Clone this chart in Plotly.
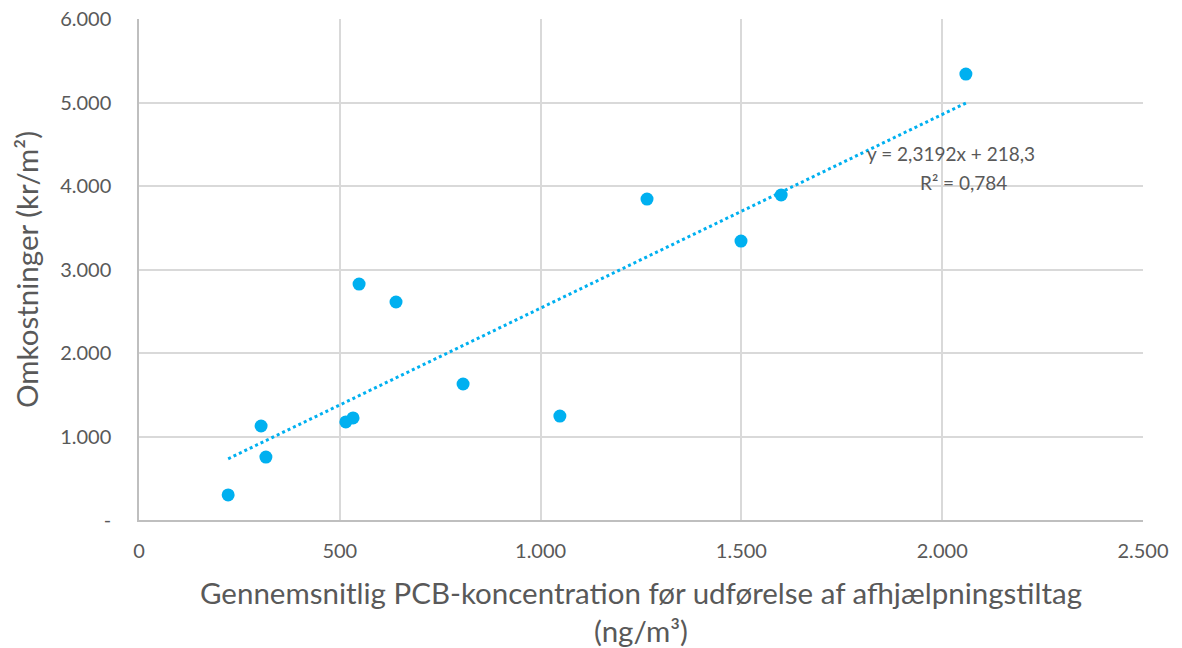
import plotly.graph_objects as go
import numpy as np

# Data
pcb_conc = [222, 304, 316, 515, 533, 548, 640, 807, 1048, 1265, 1499, 1599, 2059]
costs = [300, 1126, 754, 1174, 1222, 2826, 2611, 1629, 1245, 3844, 3341, 3892, 5341]
slope = 2.3192
intercept = 218.3
r2_text = "R² = 0,784"
eq_text = "y = 2,3192x + 218,3"

x_tickvals = [0, 500, 1000, 1500, 2000, 2500]
x_ticktext = ["0", "500", "1.000", "1.500", "2.000", "2.500"]
y_tickvals = [0, 1000, 2000, 3000, 4000, 5000, 6000]
y_ticktext = ["-", "1.000", "2.000", "3.000", "4.000", "5.000", "6.000"]

BLUE = "#00b0f0"
TXT = "#595959"
FONT = "Lato"

xt = np.array([min(pcb_conc), max(pcb_conc)])
yt = slope * xt + intercept

fig = go.Figure()
fig.add_trace(go.Scatter(x=xt, y=yt, mode="lines",
                         line=dict(color=BLUE, width=3, dash="dot"),
                         hoverinfo="skip", showlegend=False))
fig.add_trace(go.Scatter(x=pcb_conc, y=costs, mode="markers",
                         marker=dict(color=BLUE, size=13),
                         showlegend=False))

fig.add_annotation(x=2022, y=4390, xref="x", yref="y", text=eq_text,
                   showarrow=False, font=dict(family=FONT, size=19, color=TXT))
fig.add_annotation(x=2052, y=4040, xref="x", yref="y", text=r2_text,
                   showarrow=False, font=dict(family=FONT, size=19, color=TXT))

fig.update_layout(
    width=1182, height=648,
    margin=dict(l=139, r=39, t=19, b=128),
    paper_bgcolor="white", plot_bgcolor="white",
    font=dict(family=FONT, color=TXT),
    xaxis=dict(range=[0, 2500], tickvals=x_tickvals, ticktext=x_ticktext,
               showgrid=True, gridcolor="#d9d9d9", gridwidth=1.5,
               showline=True, linecolor="#bfbfbf", linewidth=1.5,
               zeroline=False, ticks="", tickfont=dict(size=20, color=TXT),
               ticklabelstandoff=12, automargin=False, ticklabeloverflow="allow",
               title=dict(text="Gennemsnitlig PCB-koncentration før udførelse af afhjælpningstiltag<br>(ng/m³)",
                          font=dict(size=29.5, color=TXT), standoff=26)),
    yaxis=dict(range=[0, 6000], tickvals=y_tickvals, ticktext=y_ticktext,
               showgrid=True, gridcolor="#d9d9d9", gridwidth=1.5,
               showline=True, linecolor="#bfbfbf", linewidth=1.5,
               zeroline=False, ticks="", tickfont=dict(size=20, color=TXT),
               ticklabelstandoff=22, automargin=False, ticklabeloverflow="allow",
               title=dict(text="Omkostninger (kr/m²)",
                          font=dict(size=29.5, color=TXT), standoff=13)),
)

# remove the browser's default 8px body margin so the figure fills the window
fig.write_html("out.html", config={"displayModeBar": False},
               post_script="document.body.style.margin='0';")
